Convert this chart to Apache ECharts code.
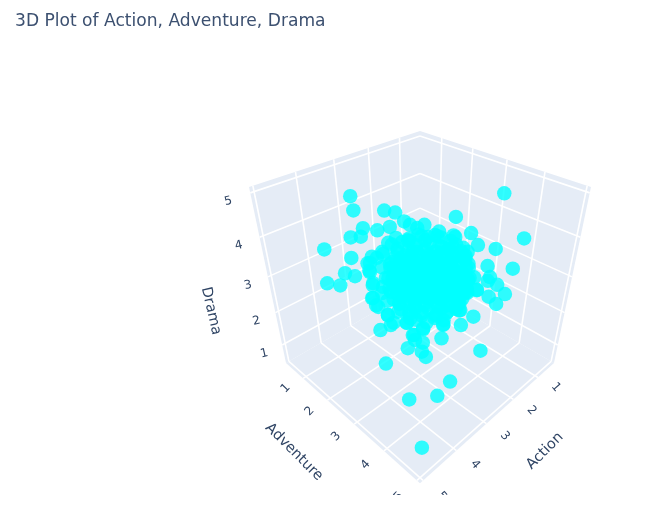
<!DOCTYPE html>
<html>
<head>
<meta charset="utf-8">
<title>3D Plot of Action, Adventure, Drama</title>
<style>html,body{margin:0;padding:0;background:#fff}#chart{width:671px;height:515px}</style>
<script src="https://cdn.jsdelivr.net/npm/echarts@6/dist/echarts.min.js"></script>
</head>
<body>
<div id="chart"></div>
<script>
// Ratings, one entry per film
const action = [2.98,3.06,2.57,2.41,2.35,2.06,1.48,0.49,0.59,1.39,1.39,1.14,1.68,2.63,2.86,3.07,3.35,3.18,3.88,3.53,3.77,3.64,4.15,3.96,1.43,1.05,1.49,1.56,1.45,1.41,1.69,1.64,1.82,2.12,2.40,1.87,3.73,3.52,3.45,3.47,3.57,3.55,3.44,3.36,3.32,3.19,2.83,3.04,2.67,3.24,3.26,3.27,3.17,3.46,3.27,3.25,2.32,3.95,3.09,3.43,3.91,4.72,
2.86,2.87,3.58,2.99,3.10,2.41,2.52,3.21,3.34,3.36,2.78,2.91,2.23,2.37,3.29,3.43,3.46,2.88,3.00,2.33,2.45,2.09,3.64,3.68,3.12,3.26,2.60,2.74,2.38,2.52,2.56,3.41,3.55,2.87,3.00,2.62,2.74,2.77,2.21,3.63,2.95,3.08,2.70,2.82,2.85,2.27,3.52,2.81,2.90,2.49,2.58,3.39,2.70,
3.19,2.76,2.84,2.88,3.55,2.86,2.98,2.60,2.73,2.74,3.36,3.48,2.81,2.93,2.56,2.68,2.70,3.43,3.05,3.18,3.20,2.62,2.75,2.07,3.54,3.57,2.99,3.12,2.44,2.56,2.19,3.48,3.50,2.93,3.05,2.38,2.50,2.14,3.45,3.46,2.86,2.97,2.28,2.42,3.30,2.80,3.09,2.51,
1.70,1.87,1.82,2.00,2.27,3.47,3.36,3.57,3.55,3.41,3.36,3.28,3.12,2.98,2.80,2.63,2.46,2.20,2.29,1.98,2.11,1.80,3.24,3.03,3.24,2.68,
3.27,2.80,3.02,2.35,3.18,3.41,2.73,2.95,2.48,2.70,3.55,2.97,3.29,2.72,2.84,2.27,2.52,3.31,3.53,2.86,3.08,2.61,2.83,2.15,3.65,3.07,3.19,2.62,2.94,2.37,2.62,3.08,3.31,2.83,3.05,2.38,2.60,3.27,2.70,3.02,2.45,
3.10,3.33,2.65,2.87,2.40,2.62,3.47,2.89,3.21,2.64,2.76,2.19,3.23,3.45,2.78,3.00,2.53,2.75,3.57,2.99,3.11,2.54,2.86,2.29,3.00,3.23,2.75,2.97,2.30,
2.29,2.32,2.44,2.60,2.79,3.01,3.20,3.36,3.48,3.51,3.48,3.36,3.20,3.01,2.79,2.60,2.44,2.32,
3.60,3.60,3.54,3.38,3.19,2.93,2.66,2.42,3.57,3.44];
const adventure = [0.71,0.89,1.39,1.58,1.81,2.17,2.60,3.16,3.90,3.00,3.22,3.54,2.78,1.63,1.46,1.21,1.10,1.25,0.78,1.30,1.34,1.53,1.15,1.38,3.57,4.00,3.71,3.71,3.90,4.11,3.87,4.06,3.62,3.81,3.69,3.38,2.44,2.56,2.58,2.42,2.14,2.02,1.90,1.71,1.61,1.62,3.50,3.12,3.40,2.79,3.01,3.09,3.24,3.05,3.31,3.42,4.24,2.84,4.04,3.97,3.55,4.77,
2.79,3.38,3.07,2.86,3.35,3.04,3.53,2.44,2.91,3.29,3.07,3.54,3.22,3.68,2.36,2.82,3.19,2.97,3.45,3.12,3.60,3.56,2.61,2.97,2.73,3.19,2.85,3.31,3.27,3.73,4.09,2.44,2.90,2.58,3.05,3.03,3.51,3.88,3.64,2.82,2.50,2.97,2.95,3.43,3.80,3.58,2.93,2.64,3.15,3.16,3.67,3.26,3.15,
2.86,2.89,3.41,3.77,2.90,2.59,3.07,3.05,3.52,3.91,2.49,2.97,2.64,3.12,3.09,3.57,3.95,2.62,2.60,3.07,3.45,3.23,3.70,3.38,2.71,3.08,2.86,3.33,3.01,3.49,3.46,2.77,3.15,2.92,3.40,3.07,3.55,3.51,2.80,3.19,2.99,3.48,3.17,3.63,2.95,2.85,3.56,3.34,
3.12,3.39,3.62,3.49,3.54,2.42,2.12,2.01,2.19,1.88,1.73,1.65,1.71,1.74,1.75,1.83,2.05,2.08,1.94,2.43,2.34,2.80,3.03,3.11,2.80,3.40,
3.08,2.95,3.53,3.20,2.57,3.14,2.82,3.40,3.27,3.85,2.80,2.58,3.26,3.03,3.51,3.28,3.83,2.44,3.02,2.69,3.27,3.14,3.72,3.40,2.90,2.68,3.16,2.93,3.61,3.38,3.93,2.47,3.04,2.92,3.50,3.17,3.75,3.08,2.85,3.53,3.30,
2.65,3.22,2.90,3.48,3.35,3.93,2.88,2.66,3.34,3.11,3.59,3.36,2.52,3.10,2.77,3.35,3.22,3.80,2.98,2.76,3.24,3.01,3.69,3.46,2.55,3.12,3.00,3.58,3.25,
3.76,3.73,3.61,3.45,3.26,3.04,2.85,2.69,2.57,2.54,2.57,2.69,2.85,3.04,3.26,3.45,3.61,3.73,
2.45,2.45,2.51,2.67,2.86,3.12,3.39,3.63,2.48,2.61];
const drama = [4.39,4.13,4.13,4.09,3.93,3.87,4.01,4.44,3.62,3.72,3.50,3.43,3.65,3.83,3.77,3.81,3.64,3.65,3.42,3.27,2.99,2.94,2.81,2.77,3.12,3.07,2.92,2.85,2.78,2.61,2.56,2.43,2.68,2.20,2.05,2.87,1.96,2.05,2.09,2.23,2.41,2.54,2.78,3.04,3.17,3.29,1.81,1.97,2.07,2.09,1.87,1.78,1.73,1.63,1.57,1.47,1.58,1.35,1.02,0.77,0.70,0.87,
4.18,4.48,4.41,4.01,4.31,3.81,4.11,3.64,3.94,4.14,3.74,4.04,3.54,3.84,3.37,3.67,3.87,3.47,3.77,3.27,3.57,3.37,3.40,3.60,3.20,3.50,3.00,3.30,3.10,3.40,3.60,2.93,3.23,2.73,3.03,2.83,3.13,3.33,2.93,2.96,2.46,2.76,2.56,2.86,3.06,2.66,2.69,2.19,2.49,2.29,2.59,2.52,2.12,
4.25,4.05,4.35,4.55,4.18,3.68,3.98,3.78,4.08,4.28,3.61,3.91,3.41,3.71,3.51,3.81,4.01,3.44,3.24,3.54,3.74,3.34,3.64,3.14,3.27,3.47,3.07,3.37,2.87,3.17,2.97,3.00,3.20,2.80,3.10,2.60,2.90,2.70,2.73,2.93,2.53,2.83,2.33,2.63,2.46,2.16,2.66,2.26,
3.28,2.87,2.69,2.63,2.32,2.23,2.63,2.54,2.38,2.81,3.01,3.18,3.27,3.38,3.54,3.63,3.59,3.81,3.87,3.68,3.65,3.50,1.87,1.99,2.09,2.05,
4.18,3.88,4.28,3.78,3.64,4.04,3.54,3.94,3.64,4.04,3.69,3.29,3.79,3.39,3.69,3.29,3.69,3.15,3.55,3.05,3.45,3.15,3.55,3.05,3.31,2.91,3.21,2.81,3.31,2.91,3.31,2.56,2.96,2.66,3.06,2.56,2.96,2.72,2.32,2.82,2.42,
3.75,4.15,3.65,4.05,3.75,4.15,3.80,3.40,3.90,3.50,3.80,3.40,3.26,3.66,3.16,3.56,3.26,3.66,3.42,3.02,3.32,2.92,3.42,3.02,2.67,3.07,2.77,3.17,2.67,
3.30,3.65,3.95,4.19,4.30,4.30,4.19,3.95,3.65,3.30,2.95,2.65,2.41,2.30,2.30,2.41,2.65,2.95,
3.57,3.08,2.71,2.41,2.22,2.11,2.17,2.44,3.89,4.11];

const tickValues = [1, 2, 3, 4, 5];
const actionRange = [0.29, 5.085];
const adventureRange = [0.24, 5.085];
const dramaRange = [0.40, 5.125];

const TEXT = '#2f4464';
const FONT = '"DejaVu Sans", sans-serif';

// Perspective camera looking at the unit box from the (+,+,+) corner
const EYE_DIST = 4.76, FOCAL = 505.7, CX = 420, CY = 285.7;
const S2 = Math.SQRT2, S3 = Math.sqrt(3), S6 = Math.sqrt(6);
function unit(v, r) { return -1 + 2 * (v - r[0]) / (r[1] - r[0]); }
function cam(x, y, z) {
  const w = EYE_DIST - (x + y + z) / S3;
  return [CX + FOCAL * ((y - x) / S2) / w, CY - FOCAL * ((2 * z - x - y) / S6) / w];
}
const project = (a, b, d) => cam(unit(a, actionRange), unit(b, adventureRange), unit(d, dramaRange));

// Back walls and floor of the scene box
const [a0, a1] = actionRange, [b0, b1] = adventureRange, [d0, d1] = dramaRange;
const walls = [
  [project(a0, b0, d0), project(a0, b1, d0), project(a0, b1, d1), project(a0, b0, d1)],
  [project(a0, b0, d0), project(a1, b0, d0), project(a1, b0, d1), project(a0, b0, d1)],
  [project(a0, b0, d0), project(a1, b0, d0), project(a1, b1, d0), project(a0, b1, d0)]
];

// White grid lines on the three panes
const gridLines = [];
tickValues.forEach(t => {
  gridLines.push([project(t, b0, d0), project(t, b0, d1)], [project(t, b0, d0), project(t, b1, d0)]);
  gridLines.push([project(a0, t, d0), project(a0, t, d1)], [project(a0, t, d0), project(a1, t, d0)]);
  gridLines.push([project(a0, b0, t), project(a1, b0, t)], [project(a0, b0, t), project(a0, b1, t)]);
});

// Tick labels sit just outside the box edges
const deg = Math.PI / 180;
const ticks = [];
tickValues.forEach(t => {
  const ax = unit(t, actionRange), bx = unit(t, adventureRange), dx = unit(t, dramaRange);
  const pa = cam(ax, 1.23, -1), pb = cam(1.23, bx, -1), pd = cam(1.13, -1.13, dx);
  ticks.push({ p: [pa[0] - 1.5, pa[1] - 2], text: String(t), rot: -49 * deg, size: 12 });
  ticks.push({ p: [pb[0] + 2, pb[1] - 2], text: String(t), rot: 46 * deg, size: 12 });
  ticks.push({ p: [pd[0], pd[1] + 8.5], text: String(t), rot: 13 * deg, size: 12 });
});
const axisTitles = [
  { p: [545, 451], text: 'Action', rot: 45 * deg, size: 14.5 },
  { p: [294, 452], text: 'Adventure', rot: -45 * deg, size: 14.5 },
  { p: [211, 311], text: 'Drama', rot: -77 * deg, size: 14.5 }
];
const labels = ticks.concat(axisTitles);

const keys = arr => arr.map((_, i) => [i, 0]);

const chart = echarts.init(document.getElementById('chart'), null, { renderer: 'canvas' });
chart.setOption({
  animation: false,
  backgroundColor: '#fff',
  title: {
    text: '3D Plot of Action, Adventure, Drama',
    left: 15, top: 13, padding: 0,
    textStyle: { color: '#3c5070', fontFamily: FONT, fontSize: 17.1, fontWeight: 'normal' }
  },
  grid: { left: 0, right: 0, top: 0, bottom: 0 },
  xAxis: { type: 'value', min: 0, max: 671, show: false },
  yAxis: { type: 'value', min: 0, max: 515, inverse: true, show: false },
  series: [
    {
      type: 'custom', silent: true, z: 1, clip: false, data: keys(walls),
      renderItem: (p, api) => ({
        type: 'polygon',
        shape: { points: walls[api.value(0)].map(c => api.coord(c)) },
        style: { fill: '#e5ecf6', stroke: null }
      })
    },
    {
      type: 'custom', silent: true, z: 2, clip: false, data: keys(gridLines),
      renderItem: (p, api) => {
        const [s, e] = gridLines[api.value(0)].map(c => api.coord(c));
        return {
          type: 'line',
          shape: { x1: s[0], y1: s[1], x2: e[0], y2: e[1] },
          style: { stroke: '#ffffff', lineWidth: 1.6, fill: null }
        };
      }
    },
    {
      type: 'custom', silent: true, z: 3, clip: false, data: keys(labels),
      renderItem: (p, api) => {
        const l = labels[api.value(0)];
        const c = api.coord(l.p);
        return {
          type: 'group',
          clipPath: { type: 'rect', shape: { x: 0, y: 0, width: 671, height: 495 } },
          children: [{
            type: 'text', x: c[0], y: c[1], rotation: l.rot, originX: 0, originY: 0,
            style: { text: l.text, fill: TEXT, fontFamily: FONT, fontSize: l.size, align: 'center', verticalAlign: 'middle' }
          }]
        };
      }
    },
    {
      type: 'scatter', silent: true, z: 4, clip: false, symbolSize: 14.5,
      itemStyle: { color: '#00ffff', opacity: 0.8, borderWidth: 0 },
      data: action.map((a, i) => project(a, adventure[i], drama[i]))
    }
  ]
});
</script>
</body>
</html>
